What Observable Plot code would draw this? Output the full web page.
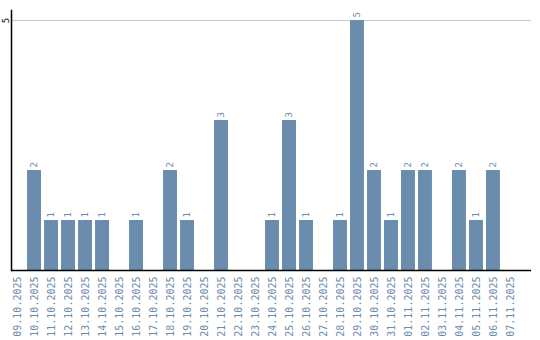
<!DOCTYPE html>
<html>
<head>
<meta charset="utf-8">
<script src="https://cdn.jsdelivr.net/npm/d3@7"></script>
<script src="https://cdn.jsdelivr.net/npm/@observablehq/plot@0.6"></script>
<style>
  html, body { margin: 0; padding: 0; background: #fff; }
  #chart svg { display: block; }
</style>
</head>
<body>
<div id="chart"></div>
<script>
const dates = [
  "09.10.2025","10.10.2025","11.10.2025","12.10.2025","13.10.2025","14.10.2025",
  "15.10.2025","16.10.2025","17.10.2025","18.10.2025","19.10.2025","20.10.2025",
  "21.10.2025","22.10.2025","23.10.2025","24.10.2025","25.10.2025","26.10.2025",
  "27.10.2025","28.10.2025","29.10.2025","30.10.2025","31.10.2025","01.11.2025",
  "02.11.2025","03.11.2025","04.11.2025","05.11.2025","06.11.2025","07.11.2025"
];
const counts = [
  0, 2, 1, 1, 1, 1,
  0, 1, 0, 2, 1, 0,
  3, 0, 0, 1, 3, 1,
  0, 1, 5, 2, 1, 2,
  2, 0, 2, 1, 2, 0
];
const yTicks = [5];

const data = dates.map((d, i) => ({date: d, count: counts[i]}));
const nonZero = data.filter(d => d.count > 0);
const barColor = "#6a8cad";

const chart = Plot.plot({
  width: 540,
  height: 340,
  marginTop: 10,
  marginLeft: 11,
  marginRight: 9,
  marginBottom: 70,
  style: {fontFamily: "'DejaVu Sans Mono', monospace", background: "#fff"},
  x: {domain: dates, range: [7, 520], padding: 0.18, round: false},
  y: {domain: [0, 5.2], range: [270, 10]},
  marks: [
    Plot.ruleY(yTicks, {stroke: "#c8c8c8", strokeWidth: 1}),
    Plot.barY(data, {x: "date", y: "count", fill: barColor}),
    Plot.text(nonZero, {
      x: "date", y: "count", text: d => String(d.count),
      rotate: -90, textAnchor: "start", dy: -3,
      fill: barColor, fontSize: 9
    }),
    Plot.ruleY([0], {stroke: "#000", strokeWidth: 1.5}),
    Plot.frame({anchor: "left", stroke: "#000", strokeWidth: 1.5}),
    Plot.axisX({
      tickSize: 0, tickRotate: -90, tickPadding: 6,
      fill: barColor, fontSize: 10, label: null
    }),
    Plot.axisY({
      ticks: yTicks, tickFormat: d => String(d), tickSize: 0, tickRotate: -90,
      textAnchor: "middle", tickPadding: 3,
      fill: "#000", fontSize: 9, label: null
    })
  ]
});
document.getElementById("chart").appendChild(chart);
</script>
</body>
</html>
